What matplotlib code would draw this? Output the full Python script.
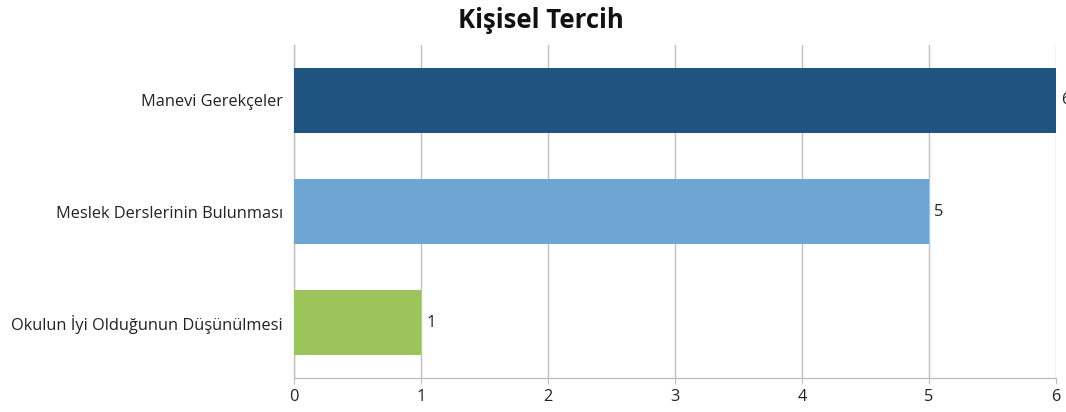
import matplotlib.pyplot as plt

# Data
categories = ['Manevi Gerekçeler', 'Meslek Derslerinin Bulunması', 'Okulun İyi Olduğunun Düşünülmesi']
values = [6, 5, 1]
colors = ['#1F5380', '#6FA5D3', '#9BC45A']
xticks = [0, 1, 2, 3, 4, 5, 6]

plt.rcParams['font.family'] = ['Open Sans', 'DejaVu Sans']

fig = plt.figure(figsize=(10.66, 4.12), dpi=100)
ax = fig.add_axes([0.2758, 0.0825, 0.7148, 0.8083])

y = list(range(len(categories)))
ax.barh(y, values, height=0.585, color=colors, zorder=3)
ax.set_ylim(len(categories) - 0.5, -0.5)
ax.set_xlim(0, 6)
ax.set_yticks(y)
ax.set_yticklabels(categories, fontsize=11.8, color='#222222')
ax.set_xticks(xticks)
ax.set_xticklabels([str(t) for t in xticks], fontsize=11.8, color='#222222')

# value labels at bar ends
for yi, v in zip(y, values):
    ax.text(v + 0.04, yi, str(v), va='center', ha='left', fontsize=11.8,
            color='#222222', clip_on=False)

ax.grid(axis='x', color='#C0C0C0', linewidth=1, zorder=0)
ax.tick_params(axis='y', length=0, pad=8)
ax.tick_params(axis='x', length=4, color='#BFBFBF', pad=4)
for s in ['top', 'right']:
    ax.spines[s].set_visible(False)
for s in ['left', 'bottom']:
    ax.spines[s].set_color('#BFBFBF')
    ax.spines[s].set_linewidth(1)

fig.text(0.507, 0.95, 'Kişisel Tercih', ha='center', va='center',
         fontsize=18.5, fontweight='bold', color='#111111')

fig.savefig('out.png', dpi=100)
